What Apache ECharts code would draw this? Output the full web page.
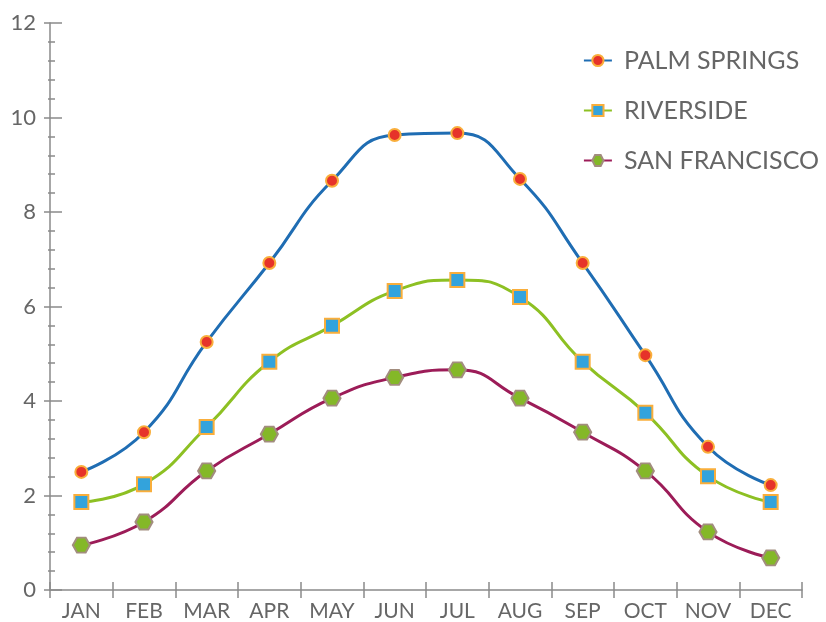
<!DOCTYPE html>
<html>
<head>
<meta charset="utf-8">
<script src="https://cdn.jsdelivr.net/npm/echarts@6/dist/echarts.min.js"></script>
<style>
html,body{margin:0;padding:0;background:#fff;}
#main{width:826px;height:622px;}
</style>
</head>
<body>
<div id="main"></div>
<script>
var months = ['JAN','FEB','MAR','APR','MAY','JUN','JUL','AUG','SEP','OCT','NOV','DEC'];
var palmSprings = [2.5, 3.34, 5.25, 6.92, 8.66, 9.63, 9.67, 8.7, 6.92, 4.97, 3.03, 2.22];
var riverside = [1.86, 2.24, 3.45, 4.83, 5.59, 6.33, 6.56, 6.2, 4.83, 3.75, 2.41, 1.86];
var sanFrancisco = [0.95, 1.44, 2.52, 3.3, 4.06, 4.5, 4.66, 4.06, 3.34, 2.52, 1.23, 0.68];

var axisGray = '#8a8a8a';
var textGray = '#666666';
var hexagon = 'path://M0,8.66 L5,0 L15,0 L20,8.66 L15,17.32 L5,17.32 Z';

var myChart = echarts.init(document.getElementById('main'));

var option = {
	animation: false,
	grid: {
		left: 50,
		right: 24,
		top: 23,
		bottom: 32
	},
	legend: {
		orient: 'vertical',
		right: 2,
		top: 43,
		itemWidth: 28,
		itemHeight: 14,
		itemGap: 25,
		textStyle: {
			color: textGray,
			fontSize: 25,
			fontFamily: 'Lato',
			padding: [0, 0, 0, 7]
		},
		data: ['PALM SPRINGS', 'RIVERSIDE', 'SAN FRANCISCO']
	},
	xAxis: [
		{
			type: 'category',
			data: months,
			boundaryGap: true,
			axisLine: { lineStyle: { color: axisGray, width: 1.5 } },
			axisTick: { show: true, interval: 0, length: 8, lineStyle: { color: axisGray, width: 1.5 } },
			axisLabel: { color: textGray, fontSize: 21, fontFamily: 'Lato', margin: 11, interval: 0 }
		},
		{
			type: 'category',
			data: months,
			position: 'bottom',
			offset: 0,
			boundaryGap: true,
			axisLine: { show: false },
			axisTick: { show: true, interval: 0, inside: true, length: 8, lineStyle: { color: axisGray, width: 1.5 } },
			axisLabel: { show: false }
		}
	],
	yAxis: [
		{
			type: 'value',
			min: 0,
			max: 12,
			interval: 2,
			axisLine: { show: true, lineStyle: { color: axisGray, width: 1.5 } },
			axisTick: { show: true, length: 6, lineStyle: { color: axisGray, width: 1.5 } },
			minorTick: { show: true, splitNumber: 5, length: 2, lineStyle: { color: axisGray, width: 1.5 } },
			splitLine: { show: false },
			axisLabel: { color: textGray, fontSize: 22, fontFamily: 'Lato', margin: 14 }
		},
		{
			type: 'value',
			min: 0,
			max: 12,
			interval: 2,
			position: 'left',
			offset: 0,
			axisLine: { show: false },
			axisTick: { show: true, inside: true, length: 12, lineStyle: { color: axisGray, width: 1.5 } },
			minorTick: { show: true, splitNumber: 5, length: 5, lineStyle: { color: axisGray, width: 1.5 } },
			splitLine: { show: false },
			axisLabel: { show: false }
		}
	],
	series: [
		{
			name: 'PALM SPRINGS',
			type: 'line',
			smooth: 0.5,
			data: palmSprings,
			symbol: 'circle',
			symbolSize: 12,
			lineStyle: { color: '#1f6db3', width: 3 },
			itemStyle: { color: '#e6332a', borderColor: '#f9ae3b', borderWidth: 2 }
		},
		{
			name: 'RIVERSIDE',
			type: 'line',
			smooth: 0.5,
			data: riverside,
			symbol: 'rect',
			symbolSize: 14,
			lineStyle: { color: '#8dc023', width: 3 },
			itemStyle: { color: '#33a3dc', borderColor: '#f9ae3b', borderWidth: 2 }
		},
		{
			name: 'SAN FRANCISCO',
			type: 'line',
			smooth: 0.5,
			data: sanFrancisco,
			symbol: hexagon,
			symbolSize: [17, 15],
			lineStyle: { color: '#9c1c58', width: 3 },
			itemStyle: { color: '#84b828', borderColor: '#a28d7e', borderWidth: 2 }
		}
	]
};

myChart.setOption(option);
</script>
</body>
</html>
